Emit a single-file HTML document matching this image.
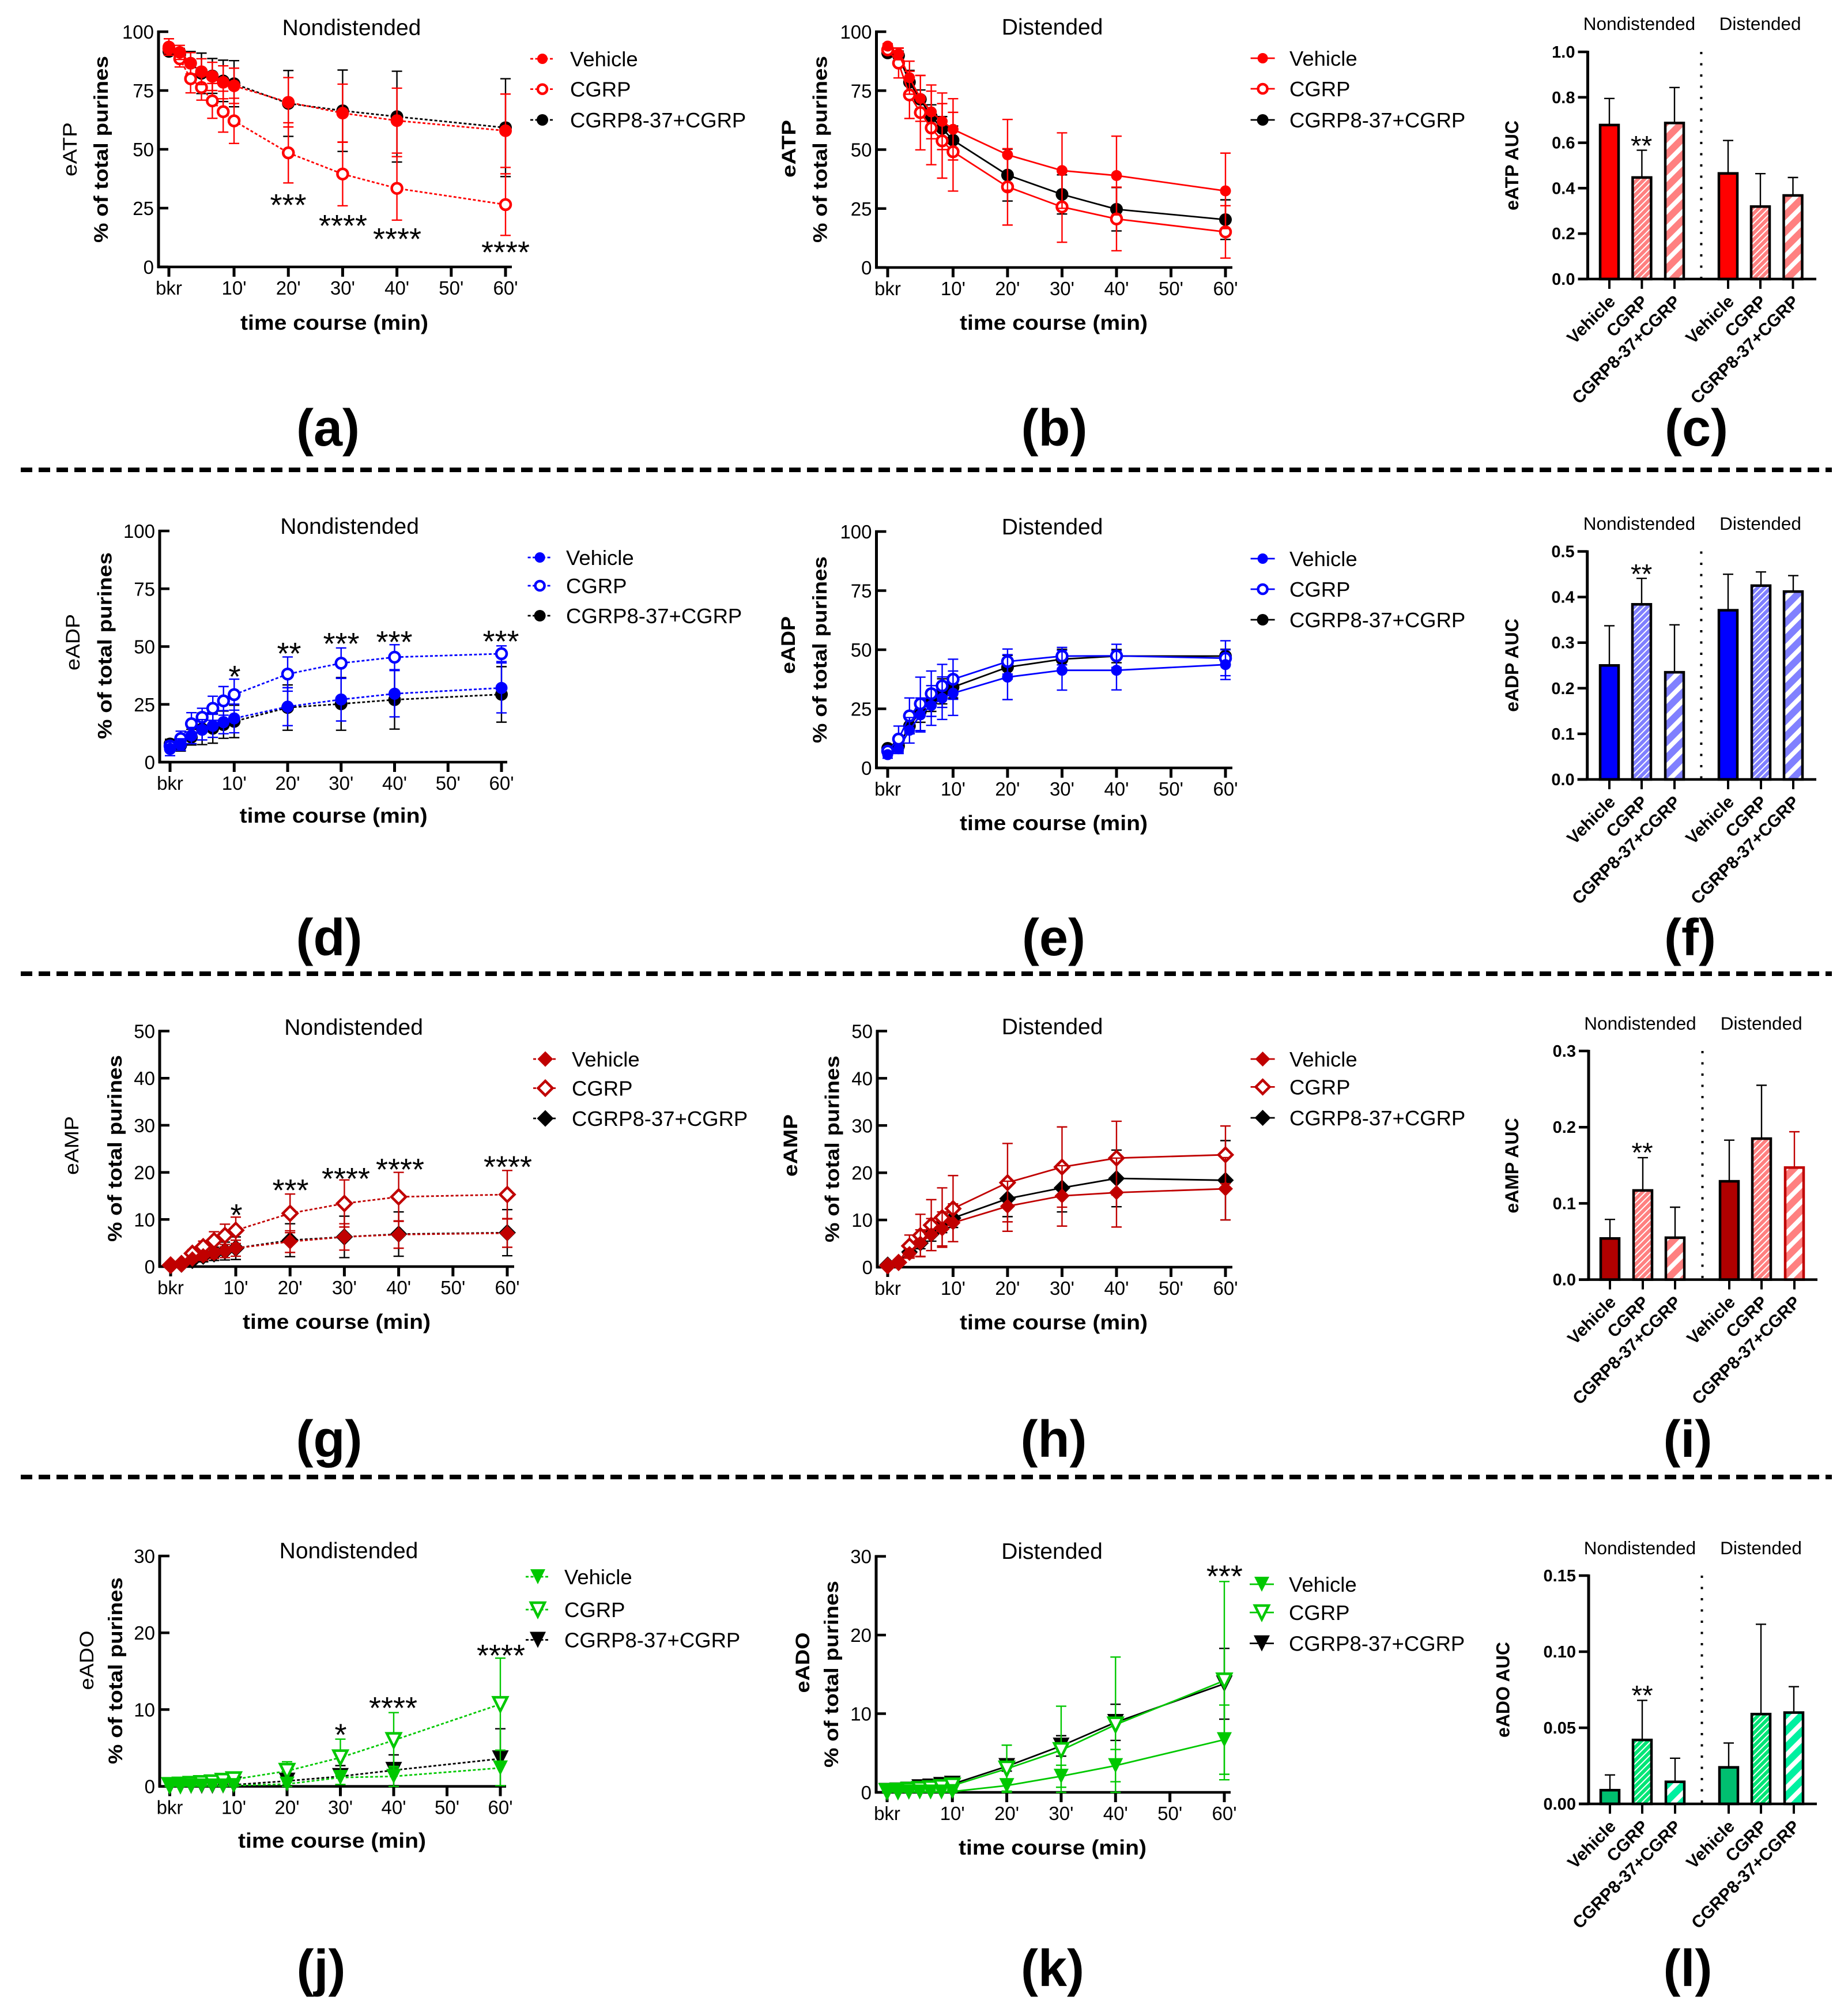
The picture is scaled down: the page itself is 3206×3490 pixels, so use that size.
<!DOCTYPE html>
<html lang="en">
<head>
<meta charset="utf-8">
<title>Purine time courses and AUC panels</title>
<style>
html,body{margin:0;padding:0;background:#fff;width:3206px;height:3490px;overflow:hidden}
svg{display:block}
text{font-family:"Liberation Sans",Arial,sans-serif;fill:#000}
</style>
</head>
<body>
<svg id="figure" xmlns="http://www.w3.org/2000/svg" width="3206" height="3490" viewBox="0 0 3206 3490">
  <rect width="3206" height="3490" fill="#fff"/>
  <defs>
    <pattern id="fineRed" width="8" height="8" patternUnits="userSpaceOnUse" patternTransform="rotate(-45)"><rect width="8" height="8" fill="#ff8080"/><rect width="8" height="2" fill="#fff"/></pattern>
    <pattern id="coarseRed" width="20" height="20" patternUnits="userSpaceOnUse" patternTransform="rotate(-45)"><rect width="20" height="20" fill="#ff8080"/><rect width="20" height="8" fill="#fff"/></pattern>
    <pattern id="fineBlue" width="8" height="8" patternUnits="userSpaceOnUse" patternTransform="rotate(-45)"><rect width="8" height="8" fill="#8080ff"/><rect width="8" height="2" fill="#fff"/></pattern>
    <pattern id="coarseBlue" width="20" height="20" patternUnits="userSpaceOnUse" patternTransform="rotate(-45)"><rect width="20" height="20" fill="#8080ff"/><rect width="20" height="8" fill="#fff"/></pattern>
    <pattern id="fineGreen" width="8" height="8" patternUnits="userSpaceOnUse" patternTransform="rotate(-45)"><rect width="8" height="8" fill="#00e676"/><rect width="8" height="2" fill="#fff"/></pattern>
    <pattern id="coarseGreen" width="20" height="20" patternUnits="userSpaceOnUse" patternTransform="rotate(-45)"><rect width="20" height="20" fill="#00f0a0"/><rect width="20" height="8" fill="#fff"/></pattern>
  </defs>
  <line x1="36" x2="3178" y1="815" y2="815" stroke="#000" stroke-width="8" stroke-dasharray="20 11"/>
  <line x1="36" x2="3178" y1="1689" y2="1689" stroke="#000" stroke-width="8" stroke-dasharray="20 11"/>
  <line x1="36" x2="3178" y1="2562" y2="2562" stroke="#000" stroke-width="8" stroke-dasharray="20 11"/>
</svg>
<script>
// ---------- shared categories and ticks ----------
const timePoints = [-2, 0, 2, 4, 6, 8, 10, 20, 30, 40, 60];
const xTickTimes = [-2, 10, 20, 30, 40, 50, 60];
const xTickLabels = ['bkr', "10'", "20'", "30'", "40'", "50'", "60'"];
const yTicksPct100 = [0, 25, 50, 75, 100];
const yTicksPct50 = [0, 10, 20, 30, 40, 50];
const yTicksPct30 = [0, 10, 20, 30];
const barCategories = ['Vehicle', 'CGRP', 'CGRP8-37+CGRP', 'Vehicle', 'CGRP', 'CGRP8-37+CGRP'];

// ---------- (a) eATP nondistended ----------
const aVehicleMean = [93.5, 91.2, 86.6, 83, 81, 78.5, 77, 70, 65.4, 62.2, 57.9];
const aVehicleSd = [3.5, 3, 4.5, 5.5, 6, 7, 7.5, 10.5, 12.3, 13.8, 15.6];
const aCgrpMean = [92.9, 88.5, 80, 76.3, 70.6, 66, 62.1, 48.5, 39.5, 33.4, 26.5];
const aCgrpSd = [2, 3.5, 6, 5.4, 7.4, 8.7, 9.6, 12.8, 13.5, 13.5, 13.1];
const aBlockMean = [91.6, 90.4, 86.6, 82.3, 81.2, 79.1, 77.9, 69.5, 66.4, 63.9, 59.2];
const aBlockSd = [1.5, 2.5, 5, 8.6, 7.4, 8.8, 9.8, 14, 17.3, 19.3, 20.8];
// ---------- (b) eATP distended ----------
const bVehicleMean = [93.9, 90.6, 80.5, 71.7, 66, 62, 58.6, 47.8, 41.1, 39, 32.5];
const bVehicleSd = [1, 2.5, 7, 9.7, 11.4, 12, 13, 15, 16, 16.7, 16];
const bCgrpMean = [92.3, 86.7, 73.2, 65.7, 59.2, 53.7, 49.1, 34.2, 25.7, 20.6, 15.1];
const bCgrpSd = [1.5, 6.3, 10, 15.8, 15.6, 15.8, 16.7, 16.2, 15, 13.5, 11.1];
const bBlockMean = [91, 89.8, 78.6, 71.3, 64, 59, 54, 39.2, 31, 24.7, 20.3];
const bBlockSd = [1, 2, 5, 4, 5, 5, 6, 11, 8.3, 9.2, 8.4];
// ---------- (d) eADP nondistended ----------
const dVehicleMean = [5.7, 7.6, 11.5, 14, 15.7, 17.3, 18.9, 24, 27.1, 29.6, 32.1];
const dVehicleSd = [2.9, 2.5, 3.5, 4.4, 5, 5, 6.2, 8.2, 9.3, 10, 10.8];
const dCgrpMean = [7, 10.2, 16.6, 19.4, 23.3, 26.5, 29.2, 38.1, 42.8, 45.4, 46.9];
const dCgrpSd = [2, 3.2, 4.8, 3.9, 5.2, 6.2, 6.7, 7.4, 6.6, 5.4, 3.4];
const dBlockMean = [7.9, 7.3, 10.8, 14.4, 14.6, 16.2, 17.6, 23.6, 25.2, 27, 29.3];
const dBlockSd = [2, 2.5, 3.4, 6.8, 6.4, 5.9, 7, 9.8, 11.4, 12.7, 12];
// ---------- (e) eADP distended ----------
const eVehicleMean = [5.6, 8.1, 15.9, 22.4, 26.4, 29.5, 31.6, 38.4, 41.3, 41.3, 43.7];
const eVehicleSd = [1.5, 2, 5.4, 7.2, 8.4, 9, 9.4, 9.5, 8.4, 8.3, 6.3];
const eCgrpMean = [7.1, 12.2, 22, 27.1, 31.4, 34.7, 37.5, 45, 47.3, 47.4, 46.4];
const eCgrpSd = [1.5, 5.5, 7.6, 11.3, 9.6, 9.1, 8.5, 5.3, 3.7, 4.9, 7.4];
const eBlockMean = [8.3, 9.3, 17.7, 23.9, 28.4, 32.4, 34.2, 42.6, 46, 47.3, 47.3];
const eBlockSd = [1, 2, 3, 4.6, 4.5, 5.3, 4.6, 5, 4.2, 2.8, 2.9];
// ---------- (g) eAMP nondistended ----------
const gVehicleMean = [0.3, 0.6, 1.6, 2.3, 2.8, 3.3, 3.9, 5.3, 6.3, 6.8, 7.1];
const gVehicleSd = [0.2, 0.3, 0.6, 1, 1.1, 1.4, 1.7, 2.3, 2.8, 2.9, 3];
const gCgrpMean = [0.3, 0.6, 2.8, 4.2, 5.5, 6.6, 7.7, 11.3, 13.4, 14.8, 15.3];
const gCgrpSd = [0.2, 0.3, 0.8, 1.2, 1.9, 2.4, 2.8, 4.1, 5, 5.2, 5.1];
const gBlockMean = [0.3, 0.5, 1.3, 2.2, 2.7, 3.3, 3.9, 5.6, 6.3, 6.9, 7.2];
const gBlockSd = [0.2, 0.3, 0.6, 1.2, 1.4, 1.9, 2.4, 3.5, 4.4, 4.7, 4.9];
// ---------- (h) eAMP distended ----------
const hVehicleMean = [0.3, 1, 2.9, 5.1, 6.9, 8.1, 9.4, 12.9, 15.1, 15.8, 16.6];
const hVehicleSd = [0.3, 0.5, 1, 2.8, 3.4, 3.6, 4, 5.3, 6.4, 7.3, 6.6];
const hCgrpMean = [0.3, 1, 4.5, 6.7, 8.9, 10.5, 12.4, 17.9, 21.2, 23.1, 23.8];
const hCgrpSd = [0.3, 0.5, 2.3, 4.5, 5.4, 6.3, 7, 8.3, 8.5, 7.8, 6.1];
const hBlockMean = [0.5, 1, 3.2, 5.1, 7, 9.2, 10.4, 14.5, 16.8, 18.8, 18.4];
const hBlockSd = [0.2, 0.3, 0.6, 1.2, 1.5, 1.9, 2, 3.8, 5.1, 6, 8.4];
// ---------- (j) eADO nondistended ----------
const jVehicleMean = [0.05, 0.05, 0.05, 0.05, 0.05, 0.05, 0.1, 0.3, 1.15, 1.3, 2.4];
const jVehicleSd = [0.05, 0.05, 0.05, 0.05, 0.05, 0.05, 0.1, 0.3, 0.9, 1.3, 2.3];
const jCgrpMean = [0.15, 0.2, 0.3, 0.4, 0.5, 0.7, 0.9, 2, 3.75, 6, 10.7];
const jCgrpSd = [0.1, 0.1, 0.1, 0.15, 0.2, 0.25, 0.3, 1.2, 2.4, 3.6, 6];
const jBlockMean = [0.1, 0.1, 0.1, 0.1, 0.1, 0.15, 0.2, 0.7, 1.3, 2.1, 3.6];
const jBlockSd = [0.05, 0.05, 0.05, 0.05, 0.1, 0.1, 0.15, 0.6, 1.4, 2, 3.9];
// ---------- (k) eADO distended ----------
const kVehicleMean = [0.05, 0.05, 0.05, 0.05, 0.05, 0.05, 0.1, 0.86, 2.05, 3.4, 6.7];
const kVehicleSd = [0.05, 0.05, 0.05, 0.05, 0.05, 0.05, 0.1, 0.7, 1.4, 2.05, 4.4];
const kCgrpMean = [0.15, 0.2, 0.3, 0.4, 0.5, 0.65, 0.85, 3, 5.35, 8.6, 14.2];
const kCgrpSd = [0.1, 0.1, 0.1, 0.15, 0.2, 0.3, 0.5, 3, 5.6, 8.6, 12.6];
const kBlockMean = [0.15, 0.2, 0.3, 0.6, 0.7, 0.9, 1.05, 3.3, 5.9, 8.9, 13.8];
const kBlockSd = [0.05, 0.1, 0.1, 0.15, 0.2, 0.3, 0.4, 0.6, 1.3, 2.3, 4.5];

// ---------- AUC bars ----------
const cBarMeans = [0.678, 0.447, 0.687, 0.465, 0.319, 0.368];
const cBarErrors = [0.117, 0.12, 0.156, 0.145, 0.145, 0.079];
const cTicks = [0, 0.2, 0.4, 0.6, 0.8, 1];
const cTickLabels = ['0.0', '0.2', '0.4', '0.6', '0.8', '1.0'];
const fBarMeans = [0.25, 0.384, 0.235, 0.371, 0.425, 0.412];
const fBarErrors = [0.087, 0.057, 0.104, 0.079, 0.03, 0.035];
const fTicks = [0, 0.1, 0.2, 0.3, 0.4, 0.5];
const fTickLabels = ['0.0', '0.1', '0.2', '0.3', '0.4', '0.5'];
const iBarMeans = [0.054, 0.117, 0.055, 0.129, 0.185, 0.147];
const iBarErrors = [0.025, 0.043, 0.04, 0.054, 0.07, 0.047];
const iTicks = [0, 0.1, 0.2, 0.3];
const iTickLabels = ['0.0', '0.1', '0.2', '0.3'];
const lBarMeans = [0.009, 0.042, 0.0145, 0.024, 0.059, 0.06];
const lBarErrors = [0.01, 0.026, 0.0155, 0.016, 0.059, 0.017];
const lTicks = [0, 0.05, 0.1, 0.15];
const lTickLabels = ['0.00', '0.05', '0.10', '0.15'];

// ---------- layout (geometry and styles only) ----------
const SVGNS = 'http://www.w3.org/2000/svg';
const figure = document.getElementById('figure');

function make(tag, attrs, parent, content) {
  const node = document.createElementNS(SVGNS, tag);
  for (const k in attrs) node.setAttribute(k, attrs[k]);
  if (content !== undefined) node.textContent = content;
  parent.appendChild(node);
  return node;
}

const linePanels = [
  {id:'a', dist:false, color:'#ff0000', shape:'circle', r:11, yMax:100, ticks:yTicksPct100, analyte:'eATP',
   v:[aVehicleMean,aVehicleSd], c:[aCgrpMean,aCgrpSd], b:[aBlockMean,aBlockSd],
   axisX:275, xBkr:293, x60:877, xEnd:888, yBase:463, yTop:55,
   title:[610,61], xTitle:[580,572], purX:187, purY:259, anX:133, anY:259, anLen:94,
   leg:{mx:941, tx:989, ys:[102,154.6,208]},
   letter:['(a)',569,773],
   stars:[['***',500,347],['****',595,383],['****',689,406],['****',877,429]]},
  {id:'b', dist:true, color:'#ff0000', shape:'circle', r:9.5, yMax:100, ticks:yTicksPct100, analyte:'eATP',
   v:[bVehicleMean,bVehicleSd], c:[bCgrpMean,bCgrpSd], b:[bBlockMean,bBlockSd],
   axisX:1520.5, xBkr:1540, x60:2126, xEnd:2138, yBase:464, yTop:55,
   title:[1825.6,60], xTitle:[1828,572], purX:1434.6, purY:259, anX:1380, anY:258, anLen:100,
   leg:{mx:2190.6, tx:2237, ys:[101,154,208]},
   letter:['(b)',1829,773], stars:[]},
  {id:'d', dist:false, color:'#0000ff', shape:'circle', r:10.5, yMax:100, ticks:yTicksPct100, analyte:'eADP',
   v:[dVehicleMean,dVehicleSd], c:[dCgrpMean,dCgrpSd], b:[dBlockMean,dBlockSd],
   axisX:277, xBkr:295, x60:870, xEnd:880, yBase:1322, yTop:921,
   title:[606.6,926], xTitle:[578.6,1427], purX:193.6, purY:1120, anX:138, anY:1114, anLen:98,
   leg:{mx:936.6, tx:982, ys:[967,1016,1068]},
   letter:['(d)',571,1657],
   stars:[['*',407,1165],['**',501.5,1125],['***',592,1108],['***',684,1105],['***',869,1104]]},
  {id:'e', dist:true, color:'#0000ff', shape:'circle', r:9.5, yMax:100, ticks:yTicksPct100, analyte:'eADP',
   v:[eVehicleMean,eVehicleSd], c:[eCgrpMean,eCgrpSd], b:[eBlockMean,eBlockSd],
   axisX:1520.5, xBkr:1540, x60:2126, xEnd:2138, yBase:1332, yTop:922,
   title:[1825.6,927], xTitle:[1828,1440], purX:1434, purY:1127, anX:1379, anY:1119, anLen:100,
   leg:{mx:2190.6, tx:2237, ys:[969,1022,1075]},
   letter:['(e)',1828,1657], stars:[]},
  {id:'g', dist:false, color:'#c00000', shape:'diamond', r:13.5, yMax:50, ticks:yTicksPct50, analyte:'eAMP',
   v:[gVehicleMean,gVehicleSd], c:[gCgrpMean,gCgrpSd], b:[gBlockMean,gBlockSd],
   axisX:277, xBkr:296, x60:880, xEnd:892, yBase:2197, yTop:1788.5,
   title:[613.6,1795], xTitle:[584,2305], purX:211, purY:1992, anX:136, anY:1987, anLen:102,
   leg:{mx:946, tx:992, ys:[1837,1887.5,1940]},
   letter:['(g)',571,2527],
   stars:[['*',410,2099],['***',504,2056],['****',600,2036],['****',694,2020],['****',881,2015.5]]},
  {id:'h', dist:true, color:'#c00000', shape:'diamond', r:13, yMax:50, ticks:yTicksPct50, analyte:'eAMP',
   v:[hVehicleMean,hVehicleSd], c:[hCgrpMean,hCgrpSd], b:[hBlockMean,hBlockSd],
   axisX:1522, xBkr:1540, x60:2126, xEnd:2138, yBase:2198, yTop:1788.5,
   title:[1825.6,1794], xTitle:[1828,2306], purX:1455.6, purY:1993, anX:1383, anY:1987, anLen:108,
   leg:{mx:2190.6, tx:2237, ys:[1837,1885.4,1939]},
   letter:['(h)',1828,2527], stars:[]},
  {id:'j', dist:false, color:'#00c800', shape:'tri', r:13, yMax:30, ticks:yTicksPct30, analyte:'eADO',
   v:[jVehicleMean,jVehicleSd], c:[jCgrpMean,jCgrpSd], b:[jBlockMean,jBlockSd],
   axisX:277, xBkr:294.5, x60:868, xEnd:878, yBase:3098.6, yTop:2699,
   title:[605,2703], xTitle:[576,3205], purX:212, purY:2898, anX:162, anY:2880, anLen:103,
   leg:{mx:933, tx:979, ys:[2735,2792,2844.5]},
   letter:['(j)',557,3445],
   stars:[['*',591,3000.6],['****',682,2954],['****',869,2863]]},
  {id:'k', dist:true, color:'#00c800', shape:'tri', r:13, yMax:30, ticks:yTicksPct30, analyte:'eADO',
   v:[kVehicleMean,kVehicleSd], c:[kCgrpMean,kCgrpSd], b:[kBlockMean,kBlockSd],
   axisX:1520, xBkr:1539, x60:2124, xEnd:2135, yBase:3109, yTop:2699.6,
   title:[1825,2704], xTitle:[1826,3217], purX:1454, purY:2904, anX:1404, anY:2884, anLen:105,
   leg:{mx:2189, tx:2236, ys:[2748,2797,2850.6]},
   letter:['(k)',1826,3445],
   stars:[['***',2124.4,2725.6]]}
];

const barPanels = [
  {id:'c', analyte:'eATP', means:cBarMeans, errors:cBarErrors, ticks:cTicks, labels:cTickLabels, yMax:1,
   axisX:2754.5, yBase:484, yTop:90, xEnd:3151, centers:[2792,2848.4,2905,2998,3054,3110.5], divider:2951.4,
   titleY:52, tn:2844, td:3053.6, labX:2634, labY:287, star:[2847.6,245], letter:['(c)',2943,773],
   solid:'#ff0000', fine:'fineRed', coarse:'coarseRed'},
  {id:'f', analyte:'eADP', means:fBarMeans, errors:fBarErrors, ticks:fTicks, labels:fTickLabels, yMax:0.5,
   axisX:2753.7, yBase:1352, yTop:956.5, xEnd:3151, centers:[2792,2848,2905,2998,3055,3111], divider:2951.4,
   titleY:919, tn:2844, td:3054, labX:2634, labY:1154, star:[2847.6,988], letter:['(f)',2932,1657],
   solid:'#0000ff', fine:'fineBlue', coarse:'coarseBlue'},
  {id:'i', analyte:'eAMP', means:iBarMeans, errors:iBarErrors, ticks:iTicks, labels:iTickLabels, yMax:0.3,
   axisX:2756, yBase:2219.6, yTop:1823, xEnd:3153, centers:[2793,2850,2906,3000,3056,3113], divider:2953.5,
   titleY:1786, tn:2845.5, td:3055.7, labX:2634, labY:2022, star:[2849,1991.5], letter:['(i)',2928,2527],
   solid:'#b00000', fine:'fineRed', coarse:'coarseRed', lastColor:'#c00000'},
  {id:'l', analyte:'eADO', means:lBarMeans, errors:lBarErrors, ticks:lTicks, labels:lTickLabels, yMax:0.15,
   axisX:2756, yBase:3129, yTop:2733, xEnd:3152, centers:[2793,2849,2906,2999,3055,3112], divider:2952.5,
   titleY:2696, tn:2845, td:3055, labX:2618.5, labY:2931, star:[2849,2933], letter:['(l)',2928,3445],
   solid:'#00bf70', fine:'fineGreen', coarse:'coarseGreen'}
];

function markerPath(shape, cx, cy, r) {
  if (shape === 'diamond') return 'M'+cx+' '+(cy-r)+'L'+(cx+r)+' '+cy+'L'+cx+' '+(cy+r)+'L'+(cx-r)+' '+cy+'Z';
  return 'M'+(cx-r)+' '+(cy-r)+'L'+(cx+r)+' '+(cy-r)+'L'+cx+' '+(cy+r)+'Z';
}

function drawMarker(parent, shape, cx, cy, r, fill, stroke, sw) {
  let m;
  if (shape === 'circle') {
    m = make('circle', {cx:cx, cy:cy, r:r, fill:fill, stroke:stroke, 'stroke-width':sw}, parent);
  } else {
    m = make('path', {d:markerPath(shape, cx, cy, r), fill:fill, stroke:stroke, 'stroke-width':sw, 'stroke-linejoin':'miter'}, parent);
  }
  return m;
}

function drawStar(parent, str, cx, cy, size) {
  const s = make('text', {x:cx, y:cy + size*0.5, 'text-anchor':'middle', 'font-size':size}, parent, str);
  
  
}

function drawLetter(parent, L) {
  const t = make('text', {x:L[1], y:L[2], 'text-anchor':'middle', 'font-size':90, 'font-weight':'bold'}, parent, L[0]);
  
  
}

function drawLinePanel(p) {
  const g = make('g', {}, figure);
  
  
  const xAxis = t => p.xBkr + (t + 2) * (p.x60 - p.xBkr) / 62;
  const yAxis = v => p.yBase - v * (p.yBase - p.yTop) / p.yMax;

  // axes
  const yl = make('line', {x1:p.axisX, x2:p.axisX, y1:p.yTop-2, y2:p.yBase+2, stroke:'#000', 'stroke-width':5}, g);
  
  
  const xl = make('line', {x1:p.axisX-2, x2:p.xEnd, y1:p.yBase, y2:p.yBase, stroke:'#000', 'stroke-width':4.5}, g);
  
  
  p.ticks.forEach(v => {
    const tk = make('line', {x1:p.axisX-2, x2:p.axisX+17, y1:yAxis(v), y2:yAxis(v), stroke:'#000', 'stroke-width':4.5}, g);
    
    
    const lb = make('text', {x:p.axisX-8, y:yAxis(v)+12, 'text-anchor':'end', 'font-size':33}, g, String(v));
    
    
  });
  xTickTimes.forEach((t, i) => {
    const tk = make('line', {x1:xAxis(t), x2:xAxis(t), y1:p.yBase, y2:p.yBase+17, stroke:'#000', 'stroke-width':5}, g);
    
    
    const lb = make('text', {x:xAxis(t), y:p.yBase+48, 'text-anchor':'middle', 'font-size':33}, g, xTickLabels[i]);
    
    
  });

  // titles
  const ti = make('text', {x:p.title[0], y:p.title[1], 'text-anchor':'middle', 'font-size':39}, g, p.dist ? 'Distended' : 'Nondistended');
  
  
  const xt = make('text', {x:p.xTitle[0], y:p.xTitle[1], 'text-anchor':'middle', 'font-size':36, 'font-weight':'bold', textLength:326, lengthAdjust:'spacingAndGlyphs'}, g, 'time course (min)');
  
  
  const pu = make('text', {transform:'translate('+p.purX+' '+p.purY+') rotate(-90)', 'text-anchor':'middle', 'font-size':34, 'font-weight':'bold', textLength:324, lengthAdjust:'spacingAndGlyphs'}, g, '% of total purines');
  
  
  const an = make('text', {transform:'translate('+p.anX+' '+p.anY+') rotate(-90)', 'text-anchor':'middle', 'font-size':34, 'font-weight':p.dist?'bold':'normal', textLength:p.anLen, lengthAdjust:'spacingAndGlyphs'}, g, p.analyte);
  
  

  // series (black drawn first, vehicle on top)
  const dash = p.dist ? 'none' : '5 3.5';
  const series = [
    {name:'CGRP8-37+CGRP', key:'block', data:p.b, color:'#000000', fill:'#000000', sw:0, r:p.shape==='circle'?11:p.r+1.5},
    {name:'CGRP', key:'cgrp', data:p.c, color:p.color, fill:'#ffffff', sw:4.5, r:p.shape==='circle'?9:p.r-1},
    {name:'Vehicle', key:'vehicle', data:p.v, color:p.color, fill:p.color, sw:0, r:p.r}
  ];
  series.forEach(s => {
    const sg = make('g', {}, g);
    
    
    const mean = s.data[0], sd = s.data[1];
    timePoints.forEach((t, i) => {
      const px = xAxis(t);
      const hi = yAxis(mean[i] + sd[i]);
      const lo = yAxis(Math.max(0, mean[i] - sd[i]));
      const e = make('path', {d:'M'+px+' '+hi+'V'+lo+'M'+(px-9)+' '+hi+'H'+(px+9)+'M'+(px-9)+' '+lo+'H'+(px+9), fill:'none', stroke:s.color, 'stroke-width':2.4}, sg);
      
      
    });
    const pts = timePoints.map((t, i) => xAxis(t) + ',' + yAxis(mean[i])).join(' ');
    const ln = make('polyline', {points:pts, fill:'none', stroke:s.color, 'stroke-width':2.8, 'stroke-dasharray':dash}, sg);
    
    
    timePoints.forEach((t, i) => {
      const m = drawMarker(sg, p.shape, xAxis(t), yAxis(mean[i]), s.r, s.fill, s.color, s.sw);
      
      
    });
  });

  // legend
  const legendRows = [
    {name:'Vehicle', color:p.color, fill:p.color, sw:0, r:p.shape==='circle'?9:p.r},
    {name:'CGRP', color:p.color, fill:'#ffffff', sw:4.5, r:p.shape==='circle'?8:p.r-1},
    {name:'CGRP8-37+CGRP', color:'#000000', fill:'#000000', sw:0, r:p.shape==='circle'?10:p.r+1}
  ];
  legendRows.forEach((row, i) => {
    const y = p.leg.ys[i];
    const lg = make('g', {}, g);
    
    
    make('line', {x1:p.leg.mx-21, x2:p.leg.mx+21, y1:y, y2:y, stroke:row.color, 'stroke-width':2.8, 'stroke-dasharray':dash}, lg);
    drawMarker(lg, p.shape, p.leg.mx, y, row.r, row.fill, row.color, row.sw);
    make('text', {x:p.leg.tx, y:y+13, 'font-size':36.5}, lg, row.name);
  });

  p.stars.forEach(s => drawStar(g, s[0], s[1], s[2], 54));
  drawLetter(g, p.letter);
}

function drawBarPanel(p) {
  const g = make('g', {}, figure);
  
  
  const yAxis = v => p.yBase - v * (p.yBase - p.yTop) / p.yMax;

  const t1 = make('text', {x:p.tn, y:p.titleY, 'text-anchor':'middle', 'font-size':31.5}, g, 'Nondistended');
  
  
  const t2 = make('text', {x:p.td, y:p.titleY, 'text-anchor':'middle', 'font-size':31.5}, g, 'Distended');
  
  
  const yl = make('text', {transform:'translate('+p.labX+' '+p.labY+') rotate(-90)', 'text-anchor':'middle', 'font-size':32, 'font-weight':'bold'}, g, p.analyte + ' AUC');
  
  

  const dv = make('line', {x1:p.divider, x2:p.divider, y1:p.yTop, y2:p.yBase, stroke:'#000', 'stroke-width':4, 'stroke-dasharray':'4 15.5'}, g);
  
  

  p.means.forEach((val, i) => {
    const cx = p.centers[i];
    const kind = i % 3;
    const stroke = (i === 5 && p.lastColor) ? p.lastColor : '#000';
    const fill = kind === 0 ? p.solid : 'url(#' + (kind === 1 ? p.fine : p.coarse) + ')';
    const err = make('path', {d:'M'+cx+' '+yAxis(val)+'V'+yAxis(val+p.errors[i])+'M'+(cx-9)+' '+yAxis(val+p.errors[i])+'H'+(cx+9), fill:'none', stroke:stroke, 'stroke-width':2.4}, g);
    
    
    const bar = make('rect', {x:cx-16, y:yAxis(val), width:32, height:p.yBase-yAxis(val), fill:fill, stroke:stroke, 'stroke-width':4.5}, g);
    
    
    const tk = make('line', {x1:cx, x2:cx, y1:p.yBase, y2:p.yBase+17, stroke:'#000', 'stroke-width':4}, g);
    
    
    const lb = make('text', {transform:'translate('+(cx+12)+' '+(p.yBase+41)+') rotate(-45)', 'text-anchor':'end', 'font-size':30, 'font-weight':'bold'}, g, barCategories[i]);
    
    
  });

  const ya = make('line', {x1:p.axisX, x2:p.axisX, y1:p.yTop-2, y2:p.yBase+2, stroke:'#000', 'stroke-width':5}, g);
  
  
  const xa = make('line', {x1:p.axisX-17, x2:p.xEnd, y1:p.yBase, y2:p.yBase, stroke:'#000', 'stroke-width':4.5}, g);
  
  
  p.ticks.forEach((v, i) => {
    const tk = make('line', {x1:p.axisX-17, x2:p.axisX, y1:yAxis(v), y2:yAxis(v), stroke:'#000', 'stroke-width':4.5}, g);
    
    
    const lb = make('text', {x:p.axisX-22, y:yAxis(v)+10, 'text-anchor':'end', 'font-size':29, 'font-weight':'bold'}, g, p.labels[i]);
    
    
  });

  drawStar(g, '**', p.star[0], p.star[1], 48);
  drawLetter(g, p.letter);
}

linePanels.forEach(drawLinePanel);
barPanels.forEach(drawBarPanel);
</script>
</body>
</html>
